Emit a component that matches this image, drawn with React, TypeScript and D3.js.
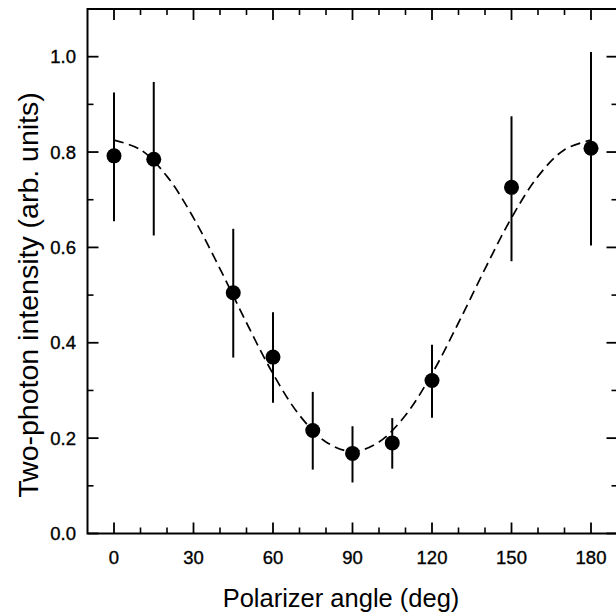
import React from "react";
import * as d3 from "d3";

const angles = [0, 15, 45, 60, 75, 90, 105, 120, 150, 180];
const intensity = [0.792, 0.785, 0.505, 0.37, 0.216, 0.168, 0.19, 0.321, 0.726, 0.808];
const errLow = [0.655, 0.625, 0.369, 0.274, 0.134, 0.107, 0.136, 0.243, 0.571, 0.604];
const errHigh = [0.925, 0.947, 0.639, 0.464, 0.297, 0.225, 0.242, 0.396, 0.875, 1.01];

const fitAngles = [0, 10, 20, 30, 40, 50, 60, 70, 80, 90, 100, 110, 120, 130, 140, 150, 160, 170, 180];
const fitValues = [0.825, 0.805, 0.749, 0.662, 0.555, 0.442, 0.335, 0.248, 0.192, 0.172, 0.192, 0.248, 0.335, 0.442, 0.555, 0.662, 0.749, 0.805, 0.825];

const xMajor = [0, 30, 60, 90, 120, 150, 180];
const xMinor = [10, 20, 40, 50, 70, 80, 100, 110, 130, 140, 160, 170];
const yMajor = [0, 0.2, 0.4, 0.6, 0.8, 1.0];
const yMinor = [0.1, 0.3, 0.5, 0.7, 0.9];

const xTitle = "Polarizer angle (deg)";
const yTitle = "Two-photon intensity (arb. units)";

export default function App() {
  const W = 616, H = 614;
  const left = 87.5, right = 617.5, top = 9, bottom = 533.5;
  const x = d3.scaleLinear().domain([-10, 190]).range([left, right]);
  const y = d3.scaleLinear().domain([0, 1.1]).range([bottom, top]);
  const font = "'Liberation Sans', Arial, Helvetica, sans-serif";
  const line = d3
    .line<number>()
    .x((_, i) => x(fitAngles[i]))
    .y((d) => y(d))
    .curve(d3.curveCatmullRom.alpha(0.5));
  const major = 11, minor = 6;
  return (
    <svg width={W} height={H} style={{ position: "absolute", left: 0, top: 0, background: "#fff" }} fontFamily={font}>
      <rect x={0} y={0} width={W} height={H} fill="#fff" />
      <path d={line(fitValues) || ""} fill="none" stroke="#000" strokeWidth={1.7} strokeDasharray="10,5.5" />
      {angles.map((a, i) => (
        <line key={"e" + i} x1={x(a)} x2={x(a)} y1={y(errLow[i])} y2={y(errHigh[i])} stroke="#000" strokeWidth={2} />
      ))}
      {angles.map((a, i) => (
        <circle key={"p" + i} cx={x(a)} cy={y(intensity[i])} r={7.5} fill="#000" />
      ))}
      <rect x={left} y={top} width={right - left} height={bottom - top} fill="none" stroke="#000" strokeWidth={2} />
      {xMajor.map((t) => (
        <g key={"xm" + t}>
          <line x1={x(t)} x2={x(t)} y1={bottom} y2={bottom - major} stroke="#000" strokeWidth={1.8} />
          <line x1={x(t)} x2={x(t)} y1={top} y2={top + major} stroke="#000" strokeWidth={1.8} />
          <text x={x(t)} y={563.5} textAnchor="middle" fontSize={18.5} stroke="#000" strokeWidth={0.35}>{t}</text>
        </g>
      ))}
      {xMinor.map((t) => (
        <g key={"xn" + t}>
          <line x1={x(t)} x2={x(t)} y1={bottom} y2={bottom - minor} stroke="#000" strokeWidth={1.6} />
          <line x1={x(t)} x2={x(t)} y1={top} y2={top + minor} stroke="#000" strokeWidth={1.6} />
        </g>
      ))}
      {yMajor.map((t) => (
        <g key={"ym" + t}>
          <line x1={left} x2={left + major} y1={y(t)} y2={y(t)} stroke="#000" strokeWidth={1.8} />
          <line x1={right} x2={right - major} y1={y(t)} y2={y(t)} stroke="#000" strokeWidth={1.8} />
          <text x={76} y={y(t) + 6.5} textAnchor="end" fontSize={18.5} stroke="#000" strokeWidth={0.35}>{t.toFixed(1)}</text>
        </g>
      ))}
      {yMinor.map((t) => (
        <g key={"yn" + t}>
          <line x1={left} x2={left + minor} y1={y(t)} y2={y(t)} stroke="#000" strokeWidth={1.6} />
          <line x1={right} x2={right - minor} y1={y(t)} y2={y(t)} stroke="#000" strokeWidth={1.6} />
        </g>
      ))}
      <text x={341} y={607} textAnchor="middle" fontSize={25.5}>{xTitle}</text>
      <text transform={`translate(38,295) rotate(-90)`} textAnchor="middle" fontSize={28.5}>{yTitle}</text>
    </svg>
  );
}
